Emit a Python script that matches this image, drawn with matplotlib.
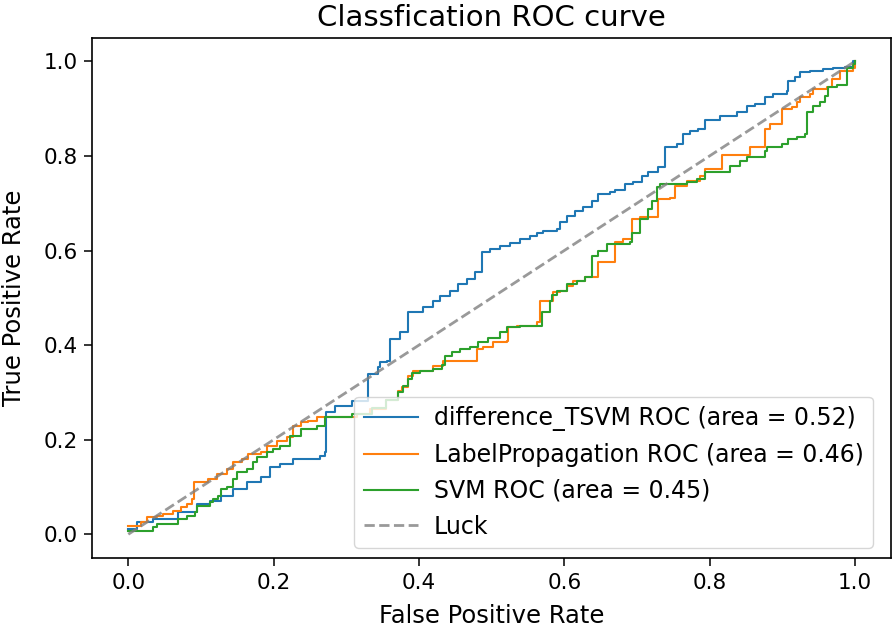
import matplotlib
matplotlib.use("Agg")
import matplotlib.pyplot as plt

plt.rcParams['font.family'] = ['DejaVu Sans']
plt.rcParams['font.size'] = 15.5

title = "Classfication ROC curve"
xlabel = "False Positive Rate"
ylabel = "True Positive Rate"

labels = ["difference_TSVM ROC (area = 0.52)",
          "LabelPropagation ROC (area = 0.46)",
          "SVM ROC (area = 0.45)"]

tsvm_fpr = [0.000, 0.012, 0.034, 0.069, 0.095, 0.113, 0.127, 0.144, 0.164, 0.182,
            0.195, 0.209, 0.227, 0.264, 0.271, 0.272, 0.285, 0.308, 0.330, 0.343,
            0.347, 0.356, 0.360, 0.374, 0.385, 0.392, 0.406, 0.420, 0.429, 0.443,
            0.454, 0.466, 0.477, 0.487, 0.498, 0.512, 0.525, 0.539, 0.553, 0.563,
            0.571, 0.590, 0.594, 0.604, 0.615, 0.626, 0.638, 0.646, 0.663, 0.670,
            0.684, 0.695, 0.707, 0.715, 0.729, 0.739, 0.755, 0.763, 0.773, 0.784,
            0.794, 0.814, 0.838, 0.851, 0.862, 0.876, 0.887, 0.906, 0.908, 0.917,
            0.924, 0.938, 0.956, 0.970, 0.986, 0.997, 1.000]
tsvm_tpr = [0.011, 0.027, 0.032, 0.047, 0.063, 0.070, 0.080, 0.095, 0.110, 0.121,
            0.142, 0.148, 0.159, 0.165, 0.175, 0.258, 0.271, 0.281, 0.338, 0.353,
            0.364, 0.366, 0.412, 0.427, 0.469, 0.471, 0.480, 0.493, 0.503, 0.514,
            0.529, 0.539, 0.554, 0.596, 0.603, 0.609, 0.617, 0.624, 0.630, 0.638,
            0.641, 0.645, 0.660, 0.672, 0.683, 0.693, 0.704, 0.719, 0.723, 0.729,
            0.740, 0.744, 0.757, 0.767, 0.776, 0.818, 0.825, 0.846, 0.852, 0.856,
            0.877, 0.884, 0.894, 0.905, 0.909, 0.924, 0.930, 0.937, 0.958, 0.968,
            0.977, 0.979, 0.983, 0.987, 0.989, 1.000, 1.000]

lp_fpr = [0.000, 0.017, 0.026, 0.040, 0.048, 0.061, 0.072, 0.081, 0.088, 0.091,
          0.110, 0.122, 0.136, 0.144, 0.157, 0.165, 0.182, 0.191, 0.205, 0.219,
          0.226, 0.237, 0.248, 0.260, 0.315, 0.333, 0.354, 0.371, 0.377, 0.385,
          0.392, 0.420, 0.433, 0.480, 0.488, 0.502, 0.521, 0.523, 0.535, 0.563,
          0.567, 0.585, 0.594, 0.604, 0.612, 0.629, 0.646, 0.670, 0.681, 0.693,
          0.704, 0.729, 0.746, 0.752, 0.769, 0.787, 0.794, 0.817, 0.856, 0.876,
          0.883, 0.900, 0.913, 0.920, 0.924, 0.938, 0.942, 0.961, 0.968, 0.979,
          0.997, 1.000]
lp_tpr = [0.017, 0.027, 0.036, 0.038, 0.042, 0.049, 0.057, 0.063, 0.074, 0.110,
          0.116, 0.127, 0.137, 0.152, 0.159, 0.169, 0.175, 0.186, 0.197, 0.205,
          0.228, 0.237, 0.239, 0.247, 0.254, 0.264, 0.285, 0.302, 0.311, 0.334,
          0.345, 0.355, 0.366, 0.391, 0.397, 0.406, 0.408, 0.438, 0.440, 0.448,
          0.493, 0.512, 0.514, 0.524, 0.535, 0.545, 0.575, 0.619, 0.624, 0.666,
          0.670, 0.708, 0.712, 0.736, 0.746, 0.757, 0.772, 0.803, 0.820, 0.856,
          0.867, 0.899, 0.903, 0.915, 0.924, 0.930, 0.941, 0.945, 0.962, 0.979,
          0.987, 1.000]

svm_fpr = [0.000, 0.034, 0.040, 0.069, 0.081, 0.092, 0.095, 0.113, 0.116, 0.124,
           0.127, 0.136, 0.144, 0.150, 0.164, 0.171, 0.177, 0.191, 0.199, 0.209,
           0.223, 0.237, 0.260, 0.271, 0.308, 0.335, 0.355, 0.371, 0.378, 0.385,
           0.391, 0.402, 0.420, 0.432, 0.436, 0.446, 0.457, 0.470, 0.481, 0.495,
           0.512, 0.521, 0.539, 0.569, 0.580, 0.583, 0.590, 0.604, 0.618, 0.629,
           0.638, 0.646, 0.659, 0.691, 0.693, 0.704, 0.715, 0.721, 0.728, 0.732,
           0.769, 0.783, 0.794, 0.828, 0.842, 0.851, 0.876, 0.879, 0.900, 0.908,
           0.920, 0.931, 0.934, 0.942, 0.952, 0.959, 0.963, 0.975, 0.989, 0.997,
           1.000]
svm_tpr = [0.006, 0.015, 0.021, 0.032, 0.038, 0.047, 0.059, 0.068, 0.074, 0.080,
           0.095, 0.101, 0.116, 0.131, 0.137, 0.152, 0.163, 0.173, 0.180, 0.186,
           0.207, 0.222, 0.228, 0.249, 0.254, 0.268, 0.285, 0.300, 0.313, 0.328,
           0.342, 0.345, 0.349, 0.359, 0.376, 0.385, 0.391, 0.397, 0.406, 0.416,
           0.427, 0.438, 0.440, 0.471, 0.493, 0.507, 0.514, 0.529, 0.535, 0.545,
           0.588, 0.598, 0.613, 0.619, 0.638, 0.666, 0.687, 0.704, 0.734, 0.740,
           0.744, 0.751, 0.767, 0.778, 0.789, 0.797, 0.810, 0.818, 0.825, 0.835,
           0.841, 0.846, 0.894, 0.905, 0.915, 0.926, 0.945, 0.951, 0.987, 0.994,
           1.000]

luck_x = [0, 1]
luck_y = [0, 1]

fig = plt.figure(figsize=(8.93, 6.29), dpi=100)
ax = fig.add_axes([0.103, 0.113, 0.895, 0.827])

ax.plot(tsvm_fpr, tsvm_tpr, color='tab:blue', lw=1.5, drawstyle='steps-post', label=labels[0])
ax.plot(lp_fpr, lp_tpr, color='tab:orange', lw=1.5, drawstyle='steps-post', label=labels[1])
ax.plot(svm_fpr, svm_tpr, color='tab:green', lw=1.5, drawstyle='steps-post', label=labels[2])
ax.plot(luck_x, luck_y, linestyle='--', lw=2, color='gray', alpha=0.8, label='Luck')

ax.set_xlim(-0.05, 1.05)
ax.set_ylim(-0.05, 1.05)
ax.set_xticks([0.0, 0.2, 0.4, 0.6, 0.8, 1.0])
ax.set_yticks([0.0, 0.2, 0.4, 0.6, 0.8, 1.0])
ax.tick_params(length=6, width=1.1, labelsize=15.5, pad=4.5)
for s in ax.spines.values():
    s.set_linewidth(1.2)
ax.set_title(title, fontsize=21, pad=8.5)
ax.set_xlabel(xlabel, fontsize=17.5, labelpad=8)
ax.set_ylabel(ylabel, fontsize=17.5, labelpad=12)
ax.legend(loc='lower right', fontsize=17, handlelength=2.3, handletextpad=0.65,
          bbox_to_anchor=(0.977, 0.019), borderaxespad=0)

fig.savefig("out.png", dpi=100)
